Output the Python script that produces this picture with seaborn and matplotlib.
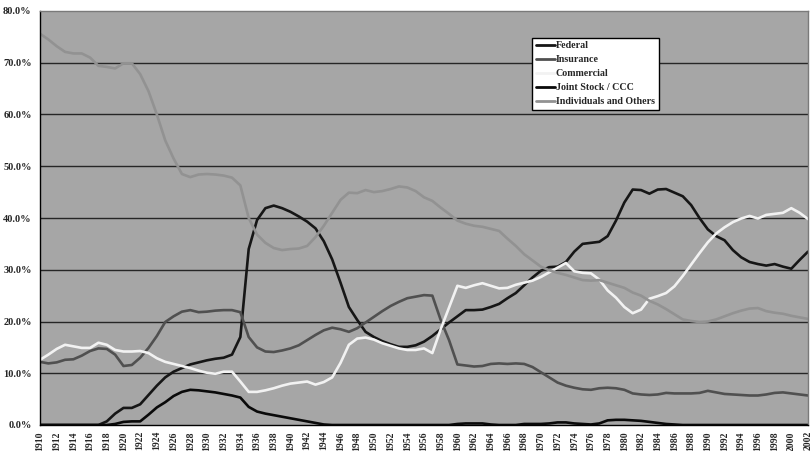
import numpy as np
import pandas as pd
import matplotlib
matplotlib.use("Agg")
import matplotlib.pyplot as plt
import seaborn as sns

years = list(range(1910, 2003))

federal = [
    0, 0, 0, 0, 0, 0, 0, 0, 0.7, 2.2,
    3.3, 3.3, 4.0, 5.8, 7.6, 9.2, 10.3, 11.0, 11.7, 12.1,
    12.5, 12.8, 13.0, 13.6, 17.0, 34.0, 39.6, 41.9, 42.4, 41.9,
    41.2, 40.3, 39.3, 38.0, 35.5, 32.0, 27.5, 22.8, 20.3, 18.0,
    17.0, 16.2, 15.6, 15.1, 15.1, 15.4, 16.1, 17.2, 18.5, 19.8,
    21.0, 22.2, 22.2, 22.3, 22.8, 23.4, 24.5, 25.5, 27.0, 28.5,
    29.8, 30.5, 30.6, 31.5, 33.5, 35.0, 35.2, 35.4, 36.5, 39.5,
    43.0, 45.5, 45.4, 44.7, 45.5, 45.6, 44.9, 44.2, 42.5, 40.0,
    37.8, 36.5, 35.7, 33.8, 32.4, 31.5, 31.1, 30.8, 31.1, 30.6,
    30.2, 31.9, 33.5,
]

insurance = [
    12.2, 11.9, 12.1, 12.6, 12.7, 13.4, 14.3, 14.8, 14.7, 13.6,
    11.4, 11.6, 13.0, 14.9, 17.2, 19.9, 21.0, 21.9, 22.2, 21.8,
    21.9, 22.1, 22.2, 22.2, 21.8, 17.0, 15.0, 14.2, 14.1, 14.4,
    14.8, 15.4, 16.4, 17.4, 18.3, 18.8, 18.5, 18.0, 18.7, 19.8,
    20.9, 22.0, 23.0, 23.8, 24.5, 24.8, 25.1, 25.0, 20.3, 16.4,
    11.7, 11.5, 11.3, 11.4, 11.8, 11.9, 11.8, 11.9, 11.8, 11.2,
    10.2, 9.2, 8.2, 7.6, 7.2, 6.9, 6.8, 7.1, 7.2, 7.1,
    6.8, 6.1, 5.9, 5.8, 5.9, 6.2, 6.1, 6.1, 6.1, 6.2,
    6.6, 6.3, 6.0, 5.9, 5.8, 5.7, 5.7, 5.9, 6.2, 6.3,
    6.1, 5.9, 5.7,
]

commercial = [
    12.6, 13.6, 14.7, 15.5, 15.2, 14.9, 14.9, 15.9, 15.5, 14.5,
    14.2, 14.2, 14.3, 13.9, 12.9, 12.2, 11.8, 11.4, 11.0, 10.5,
    10.1, 9.9, 10.3, 10.3, 8.4, 6.4, 6.4, 6.7, 7.1, 7.6,
    8.0, 8.2, 8.4, 7.8, 8.3, 9.2, 12.0, 15.5, 16.7, 16.9,
    16.5, 15.8, 15.3, 14.8, 14.5, 14.5, 14.8, 13.9, 18.5, 22.7,
    26.9, 26.5, 27.0, 27.4, 26.9, 26.4, 26.5, 27.1, 27.5, 27.9,
    28.6, 29.5, 30.4, 31.3, 29.7, 29.4, 29.3, 28.1, 26.0, 24.6,
    22.8, 21.6, 22.3, 24.4, 24.9, 25.5, 26.8, 28.8, 31.0, 33.2,
    35.3, 37.0, 38.2, 39.2, 39.9, 40.4, 39.9, 40.6, 40.8, 41.0,
    41.9, 41.0, 39.8,
]

joint_stock = [
    0, 0, 0, 0, 0, 0, 0, 0, 0, 0.2,
    0.6, 0.7, 0.7, 2.0, 3.4, 4.4, 5.6, 6.4, 6.8, 6.7,
    6.5, 6.3, 6.0, 5.7, 5.3, 3.5, 2.6, 2.2, 1.9, 1.6,
    1.3, 1.0, 0.7, 0.4, 0.1, 0, 0, 0, 0, 0,
    0, 0, 0, 0, 0, 0, 0, 0, 0, 0,
    0.2, 0.3, 0.3, 0.3, 0.1, 0, 0, 0, 0.2, 0.2,
    0.2, 0.3, 0.5, 0.5, 0.3, 0.2, 0.1, 0.3, 0.9, 1.0,
    1.0, 0.9, 0.8, 0.6, 0.4, 0.2, 0.1, 0, 0, 0,
    0, 0, 0, 0, 0, 0, 0, 0, 0, 0,
    0, 0, 0,
]

individuals = [
    75.6, 74.5, 73.2, 72.1, 71.8, 71.8, 71.0, 69.4, 69.2, 68.9,
    69.9, 69.9, 67.8, 64.5, 60.0, 55.0, 51.5, 48.5, 47.9, 48.4,
    48.5, 48.4, 48.2, 47.8, 46.3, 40.0, 36.8, 35.2, 34.2, 33.8,
    34.0, 34.1, 34.6, 36.3, 38.5, 41.0, 43.5, 44.9, 44.8, 45.4,
    45.0, 45.2, 45.6, 46.1, 45.9, 45.2, 44.0, 43.3, 42.0, 40.8,
    39.5, 38.9, 38.5, 38.3, 37.9, 37.5, 36.0, 34.6, 33.0, 31.8,
    30.6, 29.9, 29.4, 29.0, 28.5, 28.0, 27.9, 28.0, 27.5, 27.0,
    26.5, 25.6, 25.0, 24.0, 23.3, 22.4, 21.4, 20.4, 20.1, 19.9,
    20.0, 20.4, 21.0, 21.6, 22.1, 22.5, 22.6, 22.0, 21.7, 21.5,
    21.1, 20.8, 20.5,
]

series_names = ["Federal", "Insurance", "Commercial",
                "Joint Stock / CCC", "Individuals and Others"]
series_values = [federal, insurance, commercial, joint_stock, individuals]
series_colors = ["#161616", "#505050", "#f2f2f2", "#0a0a0a", "#929292"]

frames = []
for name, vals in zip(series_names, series_values):
    frames.append(pd.DataFrame({"Year": years, "Share": vals, "Lender": name}))
df = pd.concat(frames, ignore_index=True)

sns.set_style("white", {"axes.facecolor": "#a6a6a6"})
plt.rcParams["font.family"] = ["Liberation Serif", "DejaVu Serif"]

fig = plt.figure(figsize=(8.11, 4.51), dpi=100)
ax = fig.add_axes([40 / 811, 1 - 425 / 451, 768 / 811, 414 / 451])
ax.set_facecolor("#a6a6a6")

sns.lineplot(data=df, x="Year", y="Share", hue="Lender",
             hue_order=series_names,
             palette=dict(zip(series_names, series_colors)),
             linewidth=1.9, ax=ax, legend=True)

ax.set_xlim(1910, 2002)
ax.set_ylim(0, 80)

# grid lines
for v in range(10, 80, 10):
    ax.axhline(v, color="#262626", lw=1.0, zorder=0.5)
ax.set_axisbelow(True)

ax.set_yticks(range(0, 81, 10))
ax.set_yticklabels([f"{v:.1f}%" for v in range(0, 81, 10)],
                   fontsize=7.5, fontweight="bold")
ax.set_xticks(years)
ax.set_xticklabels([str(y) if y % 2 == 0 else "" for y in years],
                   rotation=90, fontsize=7, fontweight="bold")
ax.tick_params(axis="x", direction="out", length=3, width=0.8,
               color="black", pad=1.5)
ax.tick_params(axis="y", direction="out", length=4, width=0.8,
               color="black", pad=2)
ax.set_xlabel("")
ax.set_ylabel("")

for side in ["left", "bottom"]:
    ax.spines[side].set_visible(True)
    ax.spines[side].set_color("black")
    ax.spines[side].set_linewidth(1.0)
for side in ["top", "right"]:
    ax.spines[side].set_visible(True)
    ax.spines[side].set_color("#7a7a7a")
    ax.spines[side].set_linewidth(1.0)

handles, labels = ax.get_legend_handles_labels()
leg = ax.legend(handles, labels, loc="upper left",
                bbox_to_anchor=(532 / 811, 1 - 38 / 451),
                bbox_transform=fig.transFigure,
                frameon=True, fancybox=False, framealpha=1,
                edgecolor="black", facecolor="white",
                prop={"family": ["Liberation Serif"], "weight": "bold",
                      "size": 7.2},
                handlelength=1.9, handletextpad=0.15, labelspacing=0.5,
                borderpad=0.35, borderaxespad=0)
leg.get_frame().set_linewidth(1.0)
for line in leg.get_lines():
    line.set_linewidth(2.0)

fig.savefig("out.png", dpi=100, facecolor="white")
